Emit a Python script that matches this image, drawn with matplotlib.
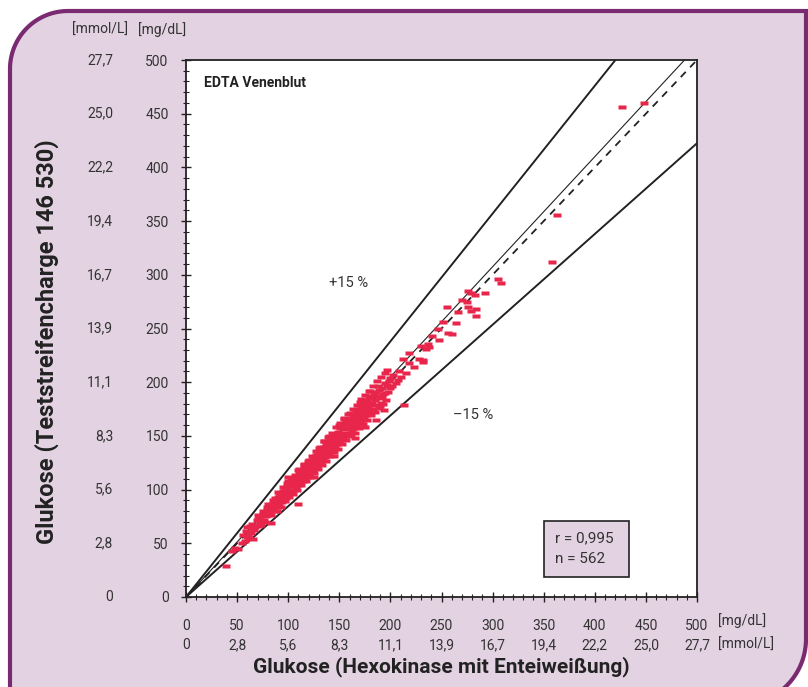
import matplotlib
matplotlib.use('Agg')
import numpy as np
import matplotlib.pyplot as plt
from matplotlib.path import Path
from matplotlib.patches import PathPatch, Rectangle
from matplotlib.transforms import blended_transform_factory, IdentityTransform

plt.rcParams['font.family'] = ['Roboto', 'DejaVu Sans']

# --- data ---
# reference method (hexokinase) in mg/dL
hk_mgdl = [
    39, 45, 48, 51, 55, 58, 60, 62, 64, 66,
    66, 68, 70, 70, 72, 73, 74, 75, 76, 77,
    78, 79, 80, 80, 81, 82, 83, 83, 84, 85,
    86, 86, 87, 88, 88, 89, 90, 90, 91, 92,
    92, 93, 94, 94, 95, 96, 96, 97, 98, 98,
    99, 100, 100, 100, 101, 102, 102, 103, 104, 104,
    105, 106, 106, 107, 108, 108, 109, 110, 110, 110,
    111, 112, 112, 113, 114, 114, 115, 116, 116, 117,
    118, 118, 119, 120, 120, 121, 122, 122, 123, 124,
    124, 125, 126, 126, 127, 128, 128, 129, 130, 130,
    131, 132, 132, 133, 134, 134, 135, 136, 136, 137,
    138, 138, 139, 140, 140, 141, 142, 142, 143, 144,
    144, 145, 146, 146, 147, 148, 148, 149, 150, 150,
    151, 152, 152, 153, 154, 154, 155, 156, 156, 157,
    158, 158, 159, 160, 160, 161, 162, 162, 163, 164,
    164, 165, 166, 166, 167, 168, 168, 169, 170, 170,
    171, 172, 172, 173, 174, 174, 175, 176, 176, 177,
    178, 178, 179, 180, 180, 181, 182, 183, 184, 185,
    186, 186, 187, 188, 189, 190, 191, 192, 193, 194,
    195, 197, 197, 198, 200, 200, 203, 207, 212, 213,
    215, 218, 218, 223, 228, 230, 232, 232, 235, 237,
    238, 241, 247, 248, 251, 255, 256, 260, 264, 266,
    270, 275, 276, 276, 279, 279, 283, 284, 284, 293,
    188, 190, 192, 195, 196, 199, 202, 205, 208, 210,
    56, 59, 61, 63, 65, 67, 69, 71, 73, 75,
    77, 79, 81, 83, 85, 87, 89, 91, 93, 95,
    97, 99, 101, 103, 105, 107, 109, 111, 113, 115,
    117, 119, 121, 123, 125, 127, 129, 131, 133, 135,
    137, 139, 141, 143, 145, 147, 149, 151, 153, 155,
    157, 159, 161, 163, 165, 167, 169, 171, 173, 175,
    177, 179, 181, 183, 185, 187, 189, 191, 193, 195,
    110, 120, 130, 140, 150, 160, 170, 180, 125, 145,
    70, 80, 90, 100, 60, 115, 135, 155, 165, 175,
    305, 308, 358, 363, 427, 448,
]
# test strip lot 146 530 in mg/dL
strip_mgdl = [
    29, 43, 46, 45, 50, 52, 56, 55, 60, 54,
    63, 65, 66, 73, 69, 75, 71, 77, 72, 79,
    75, 81, 76, 83, 78, 85, 69, 81, 87, 82,
    89, 80, 85, 91, 86, 84, 93, 88, 86, 95,
    90, 97, 88, 93, 99, 95, 91, 101, 97, 92,
    103, 98, 112, 94, 105, 100, 97, 107, 103, 98,
    109, 105, 100, 111, 107, 102, 113, 87, 109, 104,
    116, 111, 106, 117, 113, 108, 120, 115, 111, 121,
    117, 112, 124, 119, 114, 126, 121, 116, 128, 123,
    118, 130, 125, 120, 132, 127, 122, 134, 129, 124,
    136, 131, 126, 138, 133, 128, 140, 135, 130, 142,
    137, 132, 144, 139, 134, 147, 141, 136, 145, 143,
    137, 150, 145, 140, 152, 147, 142, 154, 149, 144,
    157, 151, 146, 159, 153, 147, 161, 156, 150, 163,
    157, 151, 165, 159, 153, 167, 161, 155, 169, 163,
    157, 171, 165, 159, 173, 167, 161, 175, 169, 163,
    177, 171, 165, 179, 173, 167, 181, 175, 169, 183,
    177, 171, 185, 179, 173, 187, 181, 175, 189, 183,
    165, 191, 179, 187, 193, 185, 181, 195, 189, 174,
    199, 197, 211, 191, 195, 204, 207, 202, 222, 179,
    209, 218, 227, 214, 222, 234, 219, 221, 231, 236,
    233, 243, 250, 239, 256, 270, 246, 245, 255, 265,
    277, 275, 270, 285, 283, 266, 281, 268, 262, 283,
    196, 178, 186, 190, 183, 201, 196, 199, 210, 205,
    58, 61, 58, 66, 68, 62, 72, 74, 67, 80,
    70, 84, 86, 76, 90, 92, 80, 97, 84, 102,
    89, 106, 93, 110, 96, 114, 100, 119, 104, 123,
    108, 127, 112, 131, 115, 136, 119, 140, 123, 145,
    127, 149, 131, 153, 135, 158, 138, 162, 142, 166,
    146, 170, 150, 175, 153, 179, 157, 184, 161, 188,
    165, 192, 169, 196, 172, 201, 176, 205, 180, 209,
    118, 128, 139, 150, 160, 171, 182, 192, 112, 131,
    76, 87, 98, 108, 65, 124, 145, 167, 148, 158,
    296, 292, 312, 356, 456, 460,
]

# reference lines: slope of y against x
line_slopes = {'plus15': 1.19, 'minus15': 0.845, 'regression': 1.025, 'identity': 1.0}

mg_ticks = [0, 50, 100, 150, 200, 250, 300, 350, 400, 450, 500]
mmol_labels = ['0', '2,8', '5,6', '8,3', '11,1', '13,9', '16,7', '19,4', '22,2', '25,0', '27,7']

r_value = '0,995'
n_value = 562

# --- styling ---
W, H = 808, 687
BG = '#e3d3e2'
BORDER = '#7a2a70'
DOT = '#e8264b'
INK = '#222222'
TXT = '#333333'

fig = plt.figure(figsize=(W / 100, H / 100), dpi=100, facecolor='white')


def arc(cx, cy, r, a0, a1, n=40):
    a = np.radians(np.linspace(a0, a1, n))
    return list(zip(cx + r * np.cos(a), cy + r * np.sin(a)))


# rounded panel (top-left and bottom-right corners rounded), in pixels
left, top, right = 10, H - 11, 806
verts = arc(left + 58, top - 58, 58, 180, 90)
verts += [(right, top)]
verts += arc(right - 66, 48, 66, 0, -90)
verts += [(left, 48 - 66), (left, top - 58)]
codes = [Path.MOVETO] + [Path.LINETO] * (len(verts) - 1)
panel = PathPatch(Path(verts + [verts[0]], codes + [Path.CLOSEPOLY]),
                  facecolor=BG, edgecolor=BORDER, lw=3, zorder=0)
panel.set_transform(IdentityTransform())
fig.add_artist(panel)

ax = fig.add_axes([186 / W, 90 / H, 511 / W, 537 / H])
ax.set_facecolor('white')
ax.set_xlim(0, 500)
ax.set_ylim(0, 500)
for s in ax.spines.values():
    s.set_color(INK)
    s.set_linewidth(1.3)

xs = np.array([0, 500])
ax.plot(xs, xs * line_slopes['plus15'], color=INK, lw=1.4)
ax.plot(xs, xs * line_slopes['minus15'], color=INK, lw=1.4)
ax.plot(xs, xs * line_slopes['regression'], color=INK, lw=0.8)
ax.plot(xs, xs * line_slopes['identity'], color=INK, lw=1.3, ls=(0, (4, 3.5)))

rect_marker = [(-1, -0.5), (1, -0.5), (1, 0.5), (-1, 0.5), (-1, -0.5)]
ax.plot(hk_mgdl, strip_mgdl, ls='none', marker=rect_marker, ms=6,
        color=DOT, mec='none', zorder=3)

# ticks
ax.set_xticks(mg_ticks)
ax.set_yticks(mg_ticks)
ax.set_xticks(np.arange(0, 501, 10), minor=True)
ax.set_yticks(np.arange(0, 501, 10), minor=True)
ax.tick_params(which='major', direction='inout', length=7, width=1, color=INK,
               labelsize=10, labelcolor=TXT)
ax.tick_params(which='minor', direction='inout', length=4, width=0.8, color=INK)
ax.tick_params(axis='y', pad=9)
ax.tick_params(axis='x', pad=12)
ax.set_yticklabels([str(v) for v in mg_ticks])
ax.set_xticklabels([str(v) for v in mg_ticks])

# second unit row / column
ty = blended_transform_factory(fig.transFigure, ax.transData)
for v, lab in zip(mg_ticks, mmol_labels):
    ax.text(113 / W, v, lab, transform=ty, ha='right', va='center',
            fontsize=10, color=TXT)
tx = blended_transform_factory(ax.transData, fig.transFigure)
for v, lab in zip(mg_ticks, mmol_labels):
    ax.text(v, 1 - 645 / H, lab, transform=tx, ha='center', va='center',
            fontsize=10, color=TXT)

fig.text(718 / W, 1 - 621 / H, '[mg/dL]', ha='left', va='center', fontsize=10, color=TXT)
fig.text(718 / W, 1 - 645 / H, '[mmol/L]', ha='left', va='center', fontsize=10, color=TXT)
fig.text(72 / W, 1 - 30 / H, '[mmol/L]', ha='left', va='center', fontsize=10, color=TXT)
fig.text(138 / W, 1 - 30 / H, '[mg/dL]', ha='left', va='center', fontsize=10, color=TXT)

fig.text(441 / W, 1 - 667 / H, 'Glukose (Hexokinase mit Enteiweißung)',
         ha='center', va='center', fontsize=15, fontweight='bold', color=INK)
fig.text(47 / W, 1 - 342 / H, 'Glukose (Teststreifencharge 146 530)',
         ha='center', va='center', rotation=90, fontsize=17, fontweight='bold', color=INK)

ax.text(0.035, 0.957, 'EDTA Venenblut', transform=ax.transAxes, ha='left', va='center',
        fontsize=10, fontweight='bold', color=INK)
ax.text(159, 292, '+15 %', ha='center', va='center', fontsize=10.5, color=TXT)
ax.text(281, 169.5, '\u201315 %', ha='center', va='center', fontsize=10.5, color=TXT)

ax.add_patch(Rectangle((350, 18.6), 83, 52.2, facecolor=BG, edgecolor=INK, lw=1.2, zorder=4))
ax.text(361, 55, f'r = {r_value}', ha='left', va='center', fontsize=11, color=TXT, zorder=5)
ax.text(361, 35, f'n = {n_value}', ha='left', va='center', fontsize=11, color=TXT, zorder=5)

fig.savefig('out.png', dpi=100)
